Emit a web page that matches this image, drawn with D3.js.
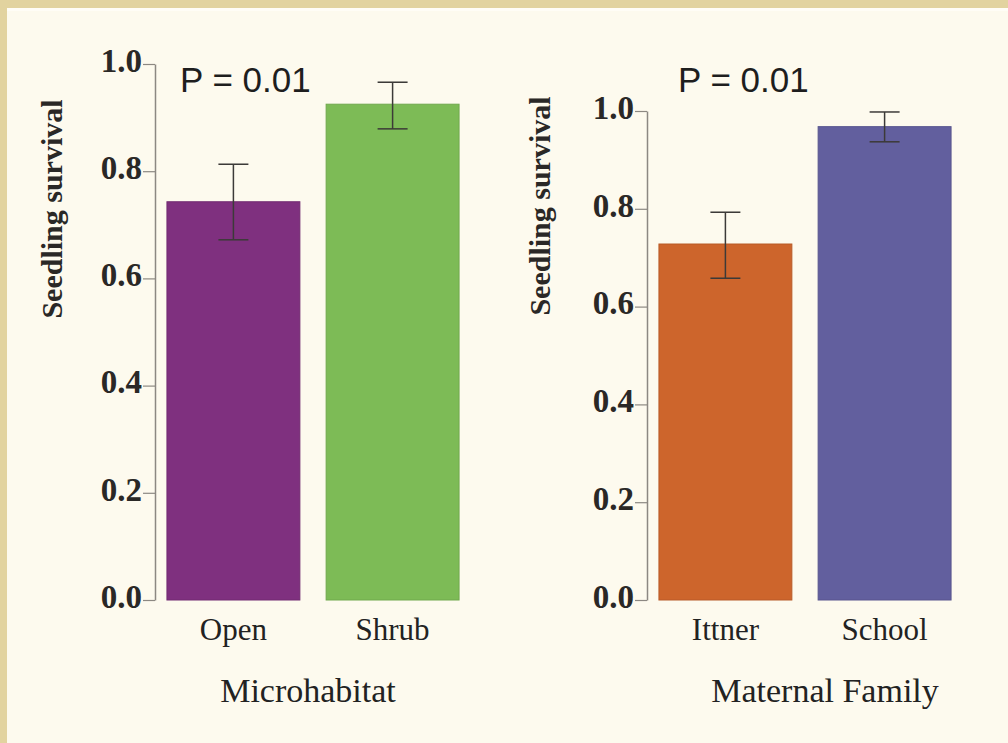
<!DOCTYPE html>
<html>
<head>
<meta charset="utf-8">
<script src="https://cdn.jsdelivr.net/npm/d3@7"></script>
<style>
  body { margin: 0; background: #fdfaee; }
  svg { display: block; }
</style>
</head>
<body>
<div id="chart"></div>
<script>
(function () {
  // values
  const habitatCats = ["Open", "Shrub"];
  const habitatMeans = [0.743, 0.925];
  const habitatLower = [0.672, 0.879];
  const habitatUpper = [0.813, 0.966];
  const habitatColors = ["#7f307f", "#7dbb56"];

  const familyCats = ["Ittner", "School"];
  const familyMeans = [0.728, 0.968];
  const familyLower = [0.658, 0.937];
  const familyUpper = [0.793, 0.998];
  const familyColors = ["#cd652c", "#625f9e"];

  const yTicks = [0, 0.2, 0.4, 0.6, 0.8, 1.0];
  const yLabel = "Seedling survival";

  const width = 1008;
  const height = 743;

  const svg = d3.select("#chart")
    .append("svg")
    .attr("width", width)
    .attr("height", height);

  // cream page with the tan frame on top and left
  svg.append("rect").attr("width", width).attr("height", height).attr("fill", "#fdfaee");
  svg.append("rect").attr("width", width).attr("height", 8).attr("fill", "#e2d39f");
  svg.append("rect").attr("width", 7).attr("height", height).attr("fill", "#e2d39f");
  svg.append("rect").attr("x", 7).attr("y", 8).attr("width", width - 7).attr("height", 3).attr("fill", "#fffdf6");

  const panels = [
    {
      cats: habitatCats, means: habitatMeans, lower: habitatLower, upper: habitatUpper,
      colors: habitatColors, title: "Microhabitat", p: "P = 0.01",
      axisX: 155, top: 64, labelX: 53, labelY: 209, titleX: 308, pX: 180
    },
    {
      cats: familyCats, means: familyMeans, lower: familyLower, upper: familyUpper,
      colors: familyColors, title: "Maternal Family", p: "P = 0.01",
      axisX: 647, top: 111, labelX: 541, labelY: 206, titleX: 825, pX: 678
    }
  ];

  const bottom = 600;

  panels.forEach(pn => {
    const y = d3.scaleLinear()
      .domain([0, 1])
      .range([bottom, pn.top]);

    const x = d3.scaleBand()
      .domain(pn.cats)
      .range([pn.axisX, pn.axisX + 316])
      .paddingInner(0.165)
      .paddingOuter(0.075);

    const rows = pn.cats.map((c, i) => ({
      cat: c, mean: pn.means[i], lo: pn.lower[i], hi: pn.upper[i], color: pn.colors[i]
    }));

    const g = svg.append("g");

    g.selectAll("rect.bar")
      .data(rows)
      .enter().append("rect")
      .attr("class", "bar")
      .attr("x", d => x(d.cat))
      .attr("y", d => y(d.mean))
      .attr("width", x.bandwidth())
      .attr("height", d => y(0) - y(d.mean))
      .attr("fill", d => d.color)
      .attr("stroke", d => d3.color(d.color).darker(0.3))
      .attr("stroke-width", 1);

    // error bars
    const eb = g.selectAll("g.err")
      .data(rows)
      .enter().append("g")
      .attr("class", "err")
      .attr("stroke", "#3c3a38")
      .attr("stroke-width", 1.5);

    const cx = d => x(d.cat) + x.bandwidth() / 2;
    eb.append("line")
      .attr("x1", cx).attr("x2", cx)
      .attr("y1", d => y(d.lo)).attr("y2", d => y(d.hi));
    eb.append("line")
      .attr("x1", d => cx(d) - 15).attr("x2", d => cx(d) + 15)
      .attr("y1", d => y(d.hi)).attr("y2", d => y(d.hi));
    eb.append("line")
      .attr("x1", d => cx(d) - 15).attr("x2", d => cx(d) + 15)
      .attr("y1", d => y(d.lo)).attr("y2", d => y(d.lo));

    // y axis
    const ax = g.append("g")
      .attr("transform", `translate(${pn.axisX},0)`)
      .call(d3.axisLeft(y)
        .tickValues(yTicks)
        .tickFormat(d3.format(".1f"))
        .tickSize(12)
        .tickSizeOuter(0)
        .tickPadding(1));
    ax.select(".domain").attr("stroke", "#8c8882").attr("stroke-width", 1.5);
    ax.selectAll(".tick line").attr("stroke", "#8c8882").attr("stroke-width", 1.2);
    ax.selectAll(".tick text")
      .attr("dy", "0.22em")
      .style("font-family", "'Liberation Serif', 'DejaVu Serif', serif")
      .style("font-size", "33px")
      .style("font-weight", "bold")
      .style("fill", "#2a2826");

    // category labels
    g.selectAll("text.cat")
      .data(rows)
      .enter().append("text")
      .attr("class", "cat")
      .attr("x", cx)
      .attr("y", 640)
      .attr("text-anchor", "middle")
      .style("font-family", "'Liberation Serif', serif")
      .style("font-size", "31px")
      .style("fill", "#222")
      .text(d => d.cat);

    // x title
    g.append("text")
      .attr("x", pn.titleX)
      .attr("y", 702)
      .attr("text-anchor", "middle")
      .style("font-family", "'Liberation Serif', serif")
      .style("font-size", "34px")
      .style("fill", "#222")
      .text(pn.title);

    // y title
    g.append("text")
      .attr("transform", `translate(${pn.labelX + 9},${pn.labelY}) rotate(-90)`)
      .attr("text-anchor", "middle")
      .style("font-family", "'Liberation Serif', serif")
      .style("font-size", "30px")
      .style("font-weight", "bold")
      .style("fill", "#2a2826")
      .text(yLabel);

    // p value
    g.append("text")
      .attr("x", pn.pX)
      .attr("y", 92)
      .style("font-family", "'Liberation Sans', Arial, sans-serif")
      .style("font-size", "35px")
      .style("fill", "#1e1e1e")
      .text(pn.p);
  });
})();
</script>
</body>
</html>
